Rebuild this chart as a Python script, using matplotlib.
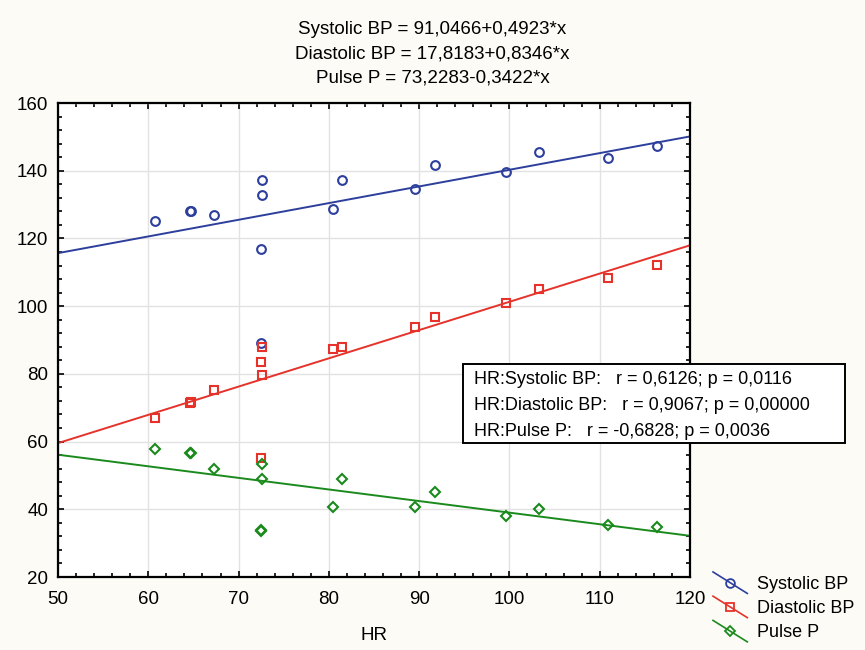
import numpy as np
import matplotlib
matplotlib.use("Agg")
import matplotlib.pyplot as plt
from matplotlib.lines import Line2D
from matplotlib.legend_handler import HandlerLine2D
from matplotlib.ticker import MultipleLocator

plt.rcParams['font.family'] = ['Liberation Sans', 'DejaVu Sans']

# HR values (two pairs overlap almost exactly at 64.6 and 72.45)
hr = [60.7, 64.6, 64.7, 67.3, 72.45, 72.45, 72.6, 72.6,
      80.5, 81.5, 89.5, 91.8, 99.6, 103.3, 110.9, 116.3]
systolic = [125.2, 128.0, 128.1, 126.9, 117.0, 89.0, 137.3, 132.9,
            128.6, 137.3, 134.5, 141.7, 139.5, 145.5, 143.8, 147.2]
diastolic = [67.1, 71.5, 71.7, 75.3, 83.5, 55.0, 87.8, 79.7,
             87.3, 87.9, 93.9, 96.7, 101.0, 105.0, 108.2, 112.1]
pulse = [57.7, 56.6, 56.5, 51.8, 33.6, 33.9, 49.0, 53.3,
         40.8, 49.0, 40.8, 45.1, 37.9, 40.2, 35.3, 34.7]

names = ["Systolic BP", "Diastolic BP", "Pulse P"]
intercepts = [91.0466, 17.8183, 73.2283]
slopes = [0.4923, 0.8346, -0.3422]
eq_labels = ["Systolic BP = 91,0466+0,4923*x",
             "Diastolic BP = 17,8183+0,8346*x",
             "Pulse P = 73,2283-0,3422*x"]
stats_labels = ["HR:Systolic BP:   r = 0,6126; p = 0,0116",
                "HR:Diastolic BP:   r = 0,9067; p = 0,00000",
                "HR:Pulse P:   r = -0,6828; p = 0,0036"]

colors = ["#2d3f9c", "#e5322b", "#1b8a1d"]
markers = ["o", "s", "D"]
msizes = [6.3, 6.3, 5]

BG = "#fcfbf6"
fig = plt.figure(figsize=(8.65, 6.5), dpi=100, facecolor=BG)
ax = fig.add_axes([58 / 865, 1 - 577 / 650, 632 / 865, 474 / 650])
ax.set_facecolor("white")

xs = np.array([50, 120])
handles = []
for yv, a, b, c, m, ms, nm in zip([systolic, diastolic, pulse], intercepts, slopes,
                                  colors, markers, msizes, names):
    ax.plot(hr, yv, linestyle="none", marker=m, ms=ms, mfc="none", mec=c, mew=1.5,
            zorder=3)
    ax.plot(xs, a + b * xs, color=c, lw=1.4, zorder=2)
    handles.append(Line2D([], [], color=c, lw=1.2, marker=m, ms=ms, mfc="none",
                          mec=c, mew=1.3, label=nm))

ax.set_xlim(50, 120)
ax.set_ylim(20, 160)
ax.xaxis.set_major_locator(MultipleLocator(10))
ax.xaxis.set_minor_locator(MultipleLocator(2))
ax.yaxis.set_major_locator(MultipleLocator(20))
ax.yaxis.set_minor_locator(MultipleLocator(4))
ax.tick_params(which="both", direction="in", top=True, right=True, width=1.2,
               labelsize=13.5, pad=7)
ax.tick_params(axis="x", which="both", pad=10)
ax.tick_params(which="major", length=4)
ax.tick_params(which="minor", length=3)
ax.grid(True, which="major", color="#e2e2e2", lw=1)
ax.set_axisbelow(True)
for s in ax.spines.values():
    s.set_linewidth(1.6)
ax.set_xlabel("HR", fontsize=13.5, labelpad=14)

for i, t in enumerate(eq_labels):
    fig.text(0.5, 1 - (28 + 24 * i) / 650, t, ha="center", va="center_baseline",
             fontsize=13.5)

# stats box (extends past the axes)
box = plt.Rectangle((463 / 865, 1 - 443 / 650), 382 / 865, 79 / 650,
                    transform=fig.transFigure, facecolor="white",
                    edgecolor="black", lw=1.4, zorder=5)
fig.add_artist(box)
for i, t in enumerate(stats_labels):
    fig.text(474 / 865, 1 - (380 + 25.5 * i) / 650, t, ha="left", va="center",
             fontsize=13, zorder=6)


class HandlerDiag(HandlerLine2D):
    def create_artists(self, legend, orig, xdescent, ydescent, width, height,
                       fontsize, trans):
        x0, x1 = -xdescent, -xdescent + width
        yc = -ydescent + height / 2
        y0, y1 = yc + 0.85 * height, yc - 0.85 * height
        ln = Line2D([x0, x1], [y0, y1], color=orig.get_color(),
                    lw=orig.get_linewidth(), transform=trans)
        mk = Line2D([(x0 + x1) / 2], [yc], linestyle="none",
                    marker=orig.get_marker(), ms=orig.get_markersize(),
                    mfc="none", mec=orig.get_markeredgecolor(),
                    mew=orig.get_markeredgewidth(), transform=trans)
        return [ln, mk]


fig.legend(handles=handles, loc="upper left",
           bbox_to_anchor=(713 / 865, 1 - 576 / 650), frameon=False,
           fontsize=13, handler_map={Line2D: HandlerDiag()},
           handlelength=1.9, handletextpad=0.55, labelspacing=0.4,
           borderaxespad=0, borderpad=0)

fig.savefig("out.png", dpi=100, facecolor=BG)
